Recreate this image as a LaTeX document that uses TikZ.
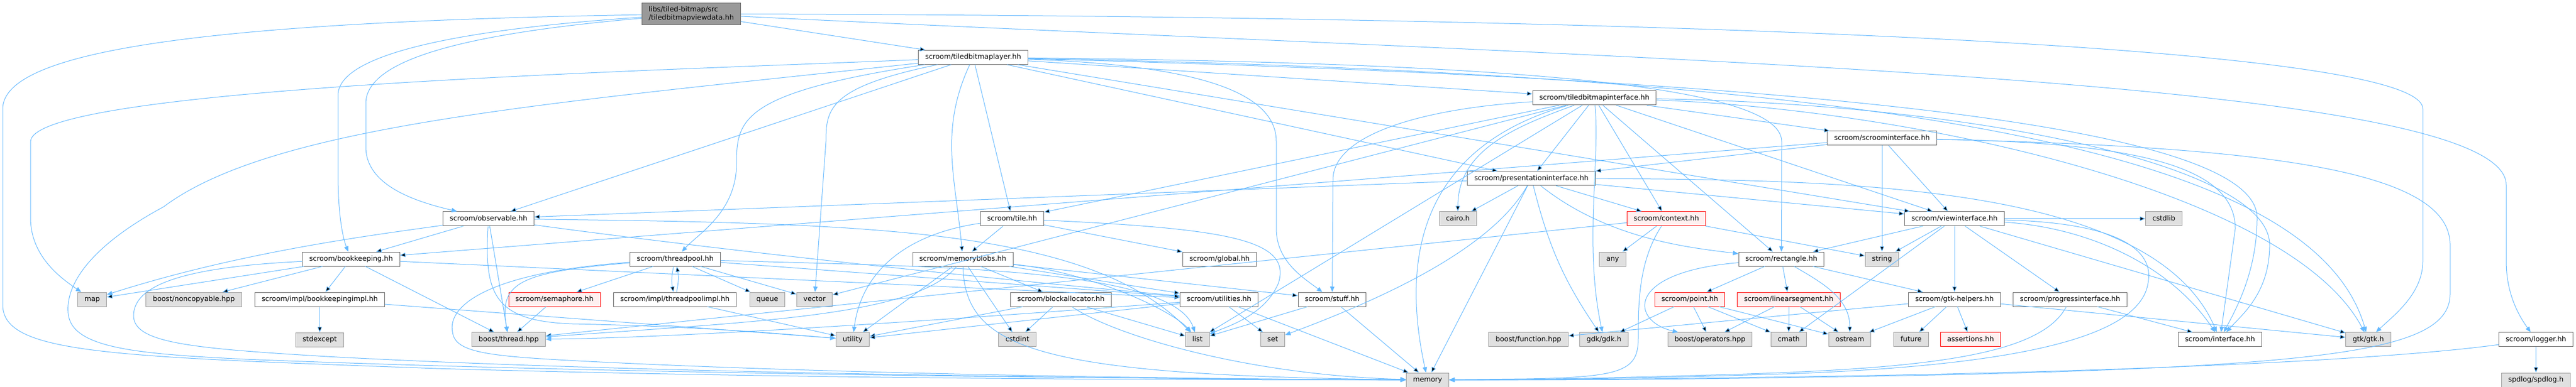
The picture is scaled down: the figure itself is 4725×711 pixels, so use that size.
\documentclass[tikz,border=0pt]{standalone}
\usepackage{fontspec}
\setmainfont{DejaVu Sans}
\usetikzlibrary{arrows.meta}

\definecolor{edgeblue}{HTML}{63B8FF}
\definecolor{boxgray}{HTML}{666666}
\definecolor{sysdraw}{HTML}{999999}
\definecolor{sysfill}{HTML}{E0E0E0}
\definecolor{redfill}{HTML}{FFF0F0}

\begin{document}
\begin{tikzpicture}[->,>={Triangle[length=10pt,width=8pt]},x=1pt,y=-1pt,
    node distance=74.2pt,
    dep/.style={draw=edgeblue,line width=1pt}]
  \tikzstyle{box}=[rectangle,draw=boxgray,fill=white,line width=1pt,inner xsep=12.4pt,
    font=\fontsize{12.8}{14.5}\selectfont]
  \tikzstyle{hdr}=[box,minimum height=26pt,inner ysep=0pt,text height=9.7pt,text depth=3pt]
  \tikzstyle{syshdr}=[hdr,draw=sysdraw,fill=sysfill]
  \tikzstyle{redhdr}=[hdr,draw=red,fill=redfill]
  \tikzstyle{mainhdr}=[box,fill=sysdraw,align=left,minimum height=40.3pt,inner ysep=3pt]

  \useasboundingbox (0,0) rectangle (4725,711);

  \node[mainhdr] (viewdata) at (1268,25.6) {libs/tiled-bitmap/src\\/tiledbitmapviewdata.hh};
  \node[hdr] (layer)    at (1785,105.3) {scroom/tiledbitmaplayer.hh};
  \node[hdr] (tbi)      at (2924.5,179.9) {scroom/tiledbitmapinterface.hh};
  \node[hdr] (scroomif) at (3452,254) {scroom/scroominterface.hh};
  \node[hdr] (presif)   at (2809,327.7) {scroom/presentationinterface.hh};

  \node[hdr]    (observable) at (896,401.8) {scroom/observable.hh};
  \node[hdr]    (tile)       at (1856.5,401.8) {scroom/tile.hh};
  \node[syshdr] (cairo)      at (2674,401.8) {cairo.h};
  \node[redhdr] (context)    at (3056.5,401.8) {scroom/context.hh};
  \node[hdr]    (viewif)     at (3585,401.8) {scroom/viewinterface.hh};
  \node[syshdr] (cstdlib)    at (3969,401.8) {cstdlib};

  \node[hdr]    (bookkeeping) at (644,476) {scroom/bookkeeping.hh};
  \node[hdr]    (threadpool)  at (1238.5,476) {scroom/threadpool.hh};
  \node[hdr]    (memoryblobs) at (1766,476) {scroom/memoryblobs.hh};
  \node[hdr]    (global)      at (2237,476) {scroom/global.hh};
  \node[syshdr] (any)         at (2958,476) {any};
  \node[hdr]    (rectangle)   at (3267.5,476) {scroom/rectangle.hh};
  \node[syshdr] (string)      at (3452,476) {string};

  \node[syshdr] (map)         at (169,550) {map};
  \node[syshdr] (noncopyable) at (355.5,550) {boost/noncopyable.hpp};
  \node[hdr]    (bkimpl)      at (586.5,550) {scroom/impl/bookkeepingimpl.hh};
  \node[redhdr] (semaphore)   at (1017,550) {scroom/semaphore.hh};
  \node[hdr]    (tpimpl)      at (1238,550) {scroom/impl/threadpoolimpl.hh};
  \node[syshdr] (queue)       at (1407.5,550) {queue};
  \node[syshdr] (vector)      at (1494,550) {vector};
  \node[hdr]    (blockalloc)  at (1946,550) {scroom/blockallocator.hh};
  \node[hdr]    (utilities)   at (2236,550) {scroom/utilities.hh};
  \node[hdr]    (stuff)       at (2443.5,550) {scroom/stuff.hh};
  \node[redhdr] (point)       at (3099.5,550) {scroom/point.hh};
  \node[redhdr] (linseg)      at (3281,550) {scroom/linearsegment.hh};
  \node[hdr]    (gtkhelpers)  at (3585,550) {scroom/gtk-helpers.hh};
  \node[hdr]    (progressif)  at (3797,550) {scroom/progressinterface.hh};

  \node[syshdr] (stdexcept)  [below of=bkimpl] {stdexcept};
  \node[syshdr] (bthread)    at (933,623.8) {boost/thread.hpp};
  \node[syshdr] (utility)    at (1564,623.8) {utility};
  \node[syshdr] (cstdint)    at (1866,623.8) {cstdint};
  \node[syshdr] (list)       at (2196.5,623.8) {list};
  \node[syshdr] (set)        at (2334.5,623.8) {set};
  \node[syshdr] (bfunction)  at (2803.5,623.8) {boost/function.hpp};
  \node[syshdr] (gdk)        at (2942,623.8) {gdk/gdk.h};
  \node[syshdr] (boperators) at (3136.5,623.8) {boost/operators.hpp};
  \node[syshdr] (cmath)      at (3281,623.8) {cmath};
  \node[syshdr] (ostream)    at (3393,623.8) {ostream};
  \node[syshdr] (future)     at (3505.5,623.8) {future};
  \node[redhdr] (assertions) at (3614.5,623.8) {assertions.hh};
  \node[hdr]    (interface)  at (4072,623.8) {scroom/interface.hh};
  \node[syshdr] (gtk)        at (4344,623.8) {gtk/gtk.h};
  \node[hdr]    (logger)     at (4651.5,623.8) {scroom/logger.hh};

  \node[syshdr] (memory) at (2618.5,698) {memory};
  \node[syshdr] (spdlog) [below of=logger] {spdlog/spdlog.h};

  \path[dep] (viewdata) edge (layer);
  \draw[dep] (viewdata) .. controls (400,40) and (5,90) .. (5,200) -- (5,560)
    .. controls (5,650) and (200,655) .. (800,677) .. controls (1500,697) and (2200,698) .. (memory);
  \draw[dep] (viewdata) .. controls (900,50) and (620,90) .. (620,175) -- (620,320)
    .. controls (620,400) and (630,440) .. (bookkeeping);
  \draw[dep] (viewdata) .. controls (850,62) and (671,110) .. (671,190) -- (671,270)
    .. controls (671,340) and (760,370) .. (observable);
  \draw[dep] (viewdata) .. controls (2500,28) and (4444,60) .. (4444,200) -- (4444,480)
    .. controls (4444,540) and (4390,580) .. (gtk);
  \draw[dep] (viewdata) .. controls (3000,110) and (4597,140) .. (4597,340) -- (4597,480)
    .. controls (4597,540) and (4620,580) .. (logger);

  \path[dep] (layer) edge (observable) edge (tile) edge (tbi) edge (presif) edge (viewif)
    edge[out=-115,in=95] (memoryblobs);
  \draw[dep] (layer) .. controls (1200,130) and (60,160) .. (56,260) -- (56,400)
    .. controls (56,470) and (110,510) .. (map);
  \draw[dep] (layer) .. controls (1000,190) and (500,230) .. (300,380)
    .. controls (170,450) and (120,520) .. (125,575)
    .. controls (130,640) and (250,650) .. (450,660) .. controls (1200,690) and (2200,696) .. (memory);
  \draw[dep] (layer) .. controls (1360,170) and (1351,220) .. (1351,300)
    .. controls (1351,390) and (1280,430) .. (threadpool);
  \draw[dep] (layer) .. controls (1520,160) and (1515,200) .. (1515,260) -- (vector);
  \draw[dep] (layer) .. controls (2200,120) and (2341,170) .. (2341,260) -- (2341,420)
    .. controls (2341,480) and (2390,510) .. (stuff);
  \draw[dep] (layer) .. controls (2700,115) and (3268,150) .. (3268,260) -- (rectangle);
  \draw[dep] (layer) .. controls (3500,150) and (4140,250) .. (4140,400)
    .. controls (4140,500) and (4100,570) .. (interface);
  \draw[dep] (layer) .. controls (3600,140) and (4250,300) .. (gtk);

  \path[dep] (tbi) edge (presif) edge (context) edge (tile) edge (vector) edge (list)
    edge (scroomif) edge (viewif) edge (rectangle) edge[out=200,in=90] (cairo);
  \draw[dep] (tbi) .. controls (2640,260) and (2560,430) .. (memory);
  \draw[dep] (tbi) .. controls (2935,300) and (2905,450) .. (gdk);
  \draw[dep] (tbi) .. controls (2600,200) and (2445,250) .. (2445,330) -- (stuff);
  \draw[dep] (tbi) .. controls (3600,190) and (4163,300) .. (4163,450)
    .. controls (4163,540) and (4110,580) .. (interface);
  \draw[dep] (tbi) .. controls (3500,200) and (4200,350) .. (gtk);

  \path[dep] (scroomif) edge (bookkeeping) edge (presif) edge (viewif) edge (string);
  \draw[dep] (scroomif) .. controls (3900,262) and (4100,300) .. (4100,420) -- (interface);
  \draw[dep] (scroomif) .. controls (4200,270) and (4494,320) .. (4494,450) -- (4494,540)
    .. controls (4494,640) and (4300,670) .. (3600,688) .. controls (3100,698) and (2900,698) .. (memory);

  \path[dep] (presif) edge (observable) edge (cairo) edge (context) edge (memory)
    edge[bend right=10] (gdk) edge (viewif);
  \draw[dep] (presif) .. controls (2950,440) and (3100,455) .. (rectangle);
  \draw[dep] (presif) .. controls (2740,450) and (2560,540) .. (set);
  \draw[dep] (presif) .. controls (3400,330) and (3950,340) .. (interface);

  \path[dep] (context) edge (any) edge (string) edge (bthread);
  \draw[dep] (context) .. controls (3005,480) and (3005,560) .. (3005,620)
    .. controls (3005,680) and (2980,693) .. (2800,696) -- (memory);

  \path[dep] (viewif) edge (rectangle) edge (string) edge (cmath) edge (gtkhelpers)
    edge (progressif) edge (cstdlib) edge (gtk);
  \draw[dep] (viewif) .. controls (3850,420) and (3990,500) .. (interface);
  \draw[dep] (viewif) .. controls (3910,410) and (3950,470) .. (3940,520)
    .. controls (3925,620) and (3700,670) .. (3300,686) .. controls (3000,696) and (2800,698) .. (memory);

  \path[dep] (progressif) edge (interface);
  \draw[dep] (progressif) .. controls (3740,660) and (3500,680) .. (3100,690)
    .. controls (2900,696) and (2750,698) .. (memory);

  \path[dep] (gtkhelpers) edge (bfunction) edge (ostream) edge (future) edge (assertions) edge (gtk);

  \path[dep] (rectangle) edge (point) edge (linseg) edge[out=-30,in=90] (ostream) edge (gtkhelpers);
  \draw[dep] (rectangle) .. controls (2980,500) and (2990,590) .. (boperators);

  \path[dep] (point) edge (boperators) edge (cmath) edge (ostream) edge (gdk);
  \path[dep] (linseg) edge (boperators) edge (cmath) edge (ostream);

  \path[dep] (bookkeeping) edge (map) edge (noncopyable) edge (bkimpl) edge (bthread) edge (utilities);
  \draw[dep] (bookkeeping) .. controls (350,490) and (245,520) .. (245,580)
    .. controls (245,630) and (350,640) .. (600,655) .. controls (1200,688) and (2200,697) .. (memory);
  \path[dep] (bkimpl) edge (stdexcept) edge (utility);

  \path[dep] (observable) edge (bookkeeping) edge (bthread);
  \draw[dep] (observable) .. controls (1400,470) and (1900,520) .. (utilities);
  \draw[dep] (observable) .. controls (700,430) and (450,460) .. (map);
  \draw[dep] (observable) .. controls (1600,410) and (2000,420) .. (list);
  \draw[dep] (observable) .. controls (888,540) and (905,590) .. (1050,595)
    .. controls (1300,600) and (1450,615) .. (utility);

  \path[dep] (threadpool) edge (semaphore) edge[bend right=12] (tpimpl) edge (queue) edge (vector)
    edge (utilities);
  \draw[dep] (threadpool) .. controls (1700,490) and (2150,490) .. (list);
  \path[dep] (tpimpl) edge[bend right=12] (threadpool) edge (utility);
  \draw[dep] (threadpool) .. controls (950,500) and (915,520) .. (bthread);
  \draw[dep] (threadpool) .. controls (900,500) and (820,560) .. (830,610)
    .. controls (835,650) and (900,655) .. (1100,665) .. controls (1600,690) and (2300,697) .. (memory);
  \path[dep] (semaphore) edge (bthread);

  \path[dep] (tile) edge (memoryblobs) edge (global);
  \draw[dep] (tile) .. controls (1660,430) and (1580,500) .. (utility);
  \draw[dep] (tile) .. controls (2250,420) and (2370,440) .. (2345,520)
    .. controls (2320,580) and (2250,600) .. (list);

  \path[dep] (memoryblobs) edge (utility) edge (cstdint) edge (blockalloc) edge (utilities) edge (stuff);
  \draw[dep] (memoryblobs) .. controls (2000,500) and (2150,570) .. (list);
  \draw[dep] (memoryblobs) .. controls (1680,580) and (1400,590) .. (bthread);
  \draw[dep] (memoryblobs) .. controls (1770,640) and (1900,690) .. (memory);

  \path[dep] (blockalloc) edge (cstdint) edge (list) edge (utility);
  \draw[dep] (blockalloc) .. controls (2050,620) and (2300,690) .. (memory);

  \path[dep] (utilities) edge (set) edge (utility) edge (memory);
  \draw[dep] (utilities) .. controls (1900,575) and (1300,620) .. (bthread);
  \path[dep] (stuff) edge (memory) edge (list);

  \path[dep] (logger) edge (spdlog);
  \draw[dep] (logger) .. controls (4350,665) and (3800,685) .. (3300,692)
    .. controls (3000,697) and (2800,698) .. (memory);
\end{tikzpicture}
\end{document}
